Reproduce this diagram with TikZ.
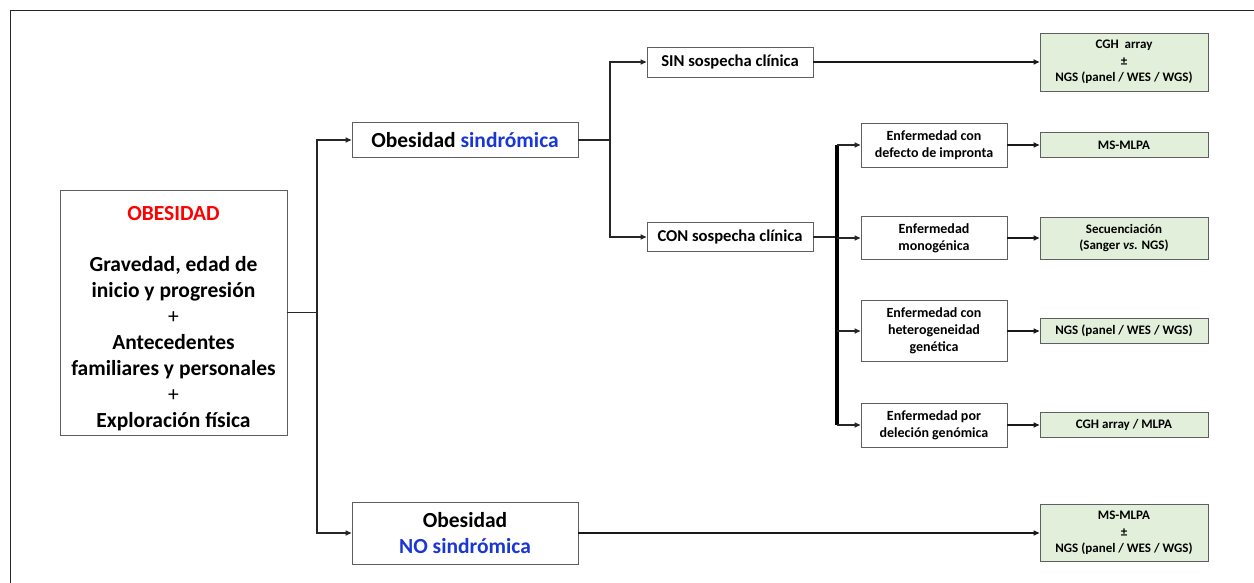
\documentclass[tikz,border=0pt]{standalone}
\usepackage{fontspec}
\setmainfont{Carlito}
\usepackage{tikz}
\usetikzlibrary{arrows.meta, positioning, calc}
\definecolor{obred}{RGB}{255, 0, 0}
\definecolor{obblue}{RGB}{25, 55, 215}
\definecolor{boxgray}{RGB}{95, 95, 95}
\definecolor{testgreen}{RGB}{226, 239, 218}
\definecolor{framegray}{RGB}{40, 40, 40}

\tikzset{
  wbox/.style={draw=boxgray, fill=white, line width=0.9pt, align=center, inner sep=0pt},
  gbox/.style={draw=boxgray, fill=testgreen, line width=0.9pt, align=center, inner sep=0pt,
    minimum width=168pt, font=\fontsize{13}{16.5}\selectfont\bfseries},
  enfbox/.style={wbox, minimum width=146pt, font=\fontsize{14}{17}\selectfont\bfseries},
  conn/.style={draw=black!85, line width=1.6pt},
  arr/.style={conn, -{Triangle[length=6pt, width=5pt]}},
  arrthick/.style={draw=black!90, line width=2.4pt, -{Triangle[length=6pt, width=5pt]}},
}

\begin{document}
\begin{tikzpicture}[x=1pt, y=-1pt]
  \useasboundingbox (0,0) rectangle (1254,583);
  % frame
  \draw[framegray, line width=1pt] (10,583) -- (10,11) -- (1254,11);

  % first level
  \node[wbox, minimum width=227pt, minimum height=245pt, font=\fontsize{21.5}{26}\selectfont\bfseries] (main) at (173.5,312.5) {
    \rule{0pt}{26pt}{\color{obred}OBESIDAD}\\[25pt]
    Gravedad, edad de\\
    inicio y progresión\\
    {\mdseries +}\\
    Antecedentes\\
    familiares y personales\\
    {\mdseries +}\\
    Exploración física
  };

  \node[wbox, minimum width=226pt, minimum height=35pt, font=\fontsize{21.5}{26}\selectfont\bfseries] (sind) at (465,140) {Obesidad {\color{obblue}sindrómica}};
  \node[wbox, minimum width=226pt, minimum height=62pt, font=\fontsize{21.5}{26}\selectfont\bfseries] (nosind) at (465,533) {Obesidad\\{\color{obblue}NO sindrómica}};

  % second level
  \node[wbox, minimum width=166pt, minimum height=30pt, font=\fontsize{16.6}{20}\selectfont\bfseries] (sin) at (730,62) {SIN sospecha clínica};
  \node[wbox, minimum width=166pt, minimum height=29pt, font=\fontsize{16.6}{20}\selectfont\bfseries] (con) at (730,237) {CON sospecha clínica};

  % diseases
  \node[enfbox, minimum height=44pt] (enf1) at (934,145) {Enfermedad con\\defecto de impronta};
  \node[enfbox, minimum height=43pt] (enf2) at (934,238) {Enfermedad\\monogénica};
  \node[enfbox, minimum height=61pt] (enf3) at (934,331) {Enfermedad con\\heterogeneidad\\genética};
  \node[enfbox, minimum height=44pt] (enf4) at (934,425) {Enfermedad por\\deleción genómica};

  % tests
  \node[gbox, minimum height=58pt] (g0) at (1124,62) {CGH\ \ array\\±\\NGS (panel / WES / WGS)};
  \node[gbox, minimum height=25pt] (g1) at (1124,145) {MS-MLPA};
  \node[gbox, minimum height=42pt] (g2) at (1124,238) {Secuenciación\\(Sanger \textit{vs.} NGS)};
  \node[gbox, minimum height=25pt] (g3) at (1124,331) {NGS (panel / WES / WGS)};
  \node[gbox, minimum height=25pt] (g4) at (1124,425) {CGH array / MLPA};
  \node[gbox, minimum height=57pt] (g5) at (1124,533) {MS-MLPA\\±\\NGS (panel / WES / WGS)};

  % branch points
  \coordinate (jA) at (317,312.5);
  \coordinate (jB) at (610,140);
  \coordinate (jC) at (837,237);

  \draw[conn] (main) -- (jA);
  \draw[arr] (jA) |- (sind);
  \draw[arr] (jA) |- (nosind);

  \draw[conn, line width=1.4pt] (sind) -- (jB);
  \draw[arr, line width=1.4pt] (jB) |- (sin);
  \draw[arr, line width=1.4pt] (jB) |- (con);

  \draw[conn, line width=2.4pt] (con) -- (jC);
  \draw[draw=black, line width=3.6pt] (jC |- enf1.west) -- (jC |- enf4.west);
  \foreach \n in {enf1, enf2, enf3, enf4}
    \draw[arr] (jC |- \n.west) -- (\n);

  \draw[arrthick] (sin) -- (g0);
  \draw[arrthick] (nosind) -- (g5);
  \draw[arrthick] (enf1) -- (g1);
  \draw[arrthick] (enf2) -- (g2);
  \draw[arrthick] (enf3) -- (g3);
  \draw[arrthick] (enf4) -- (g4);
\end{tikzpicture}
\end{document}
